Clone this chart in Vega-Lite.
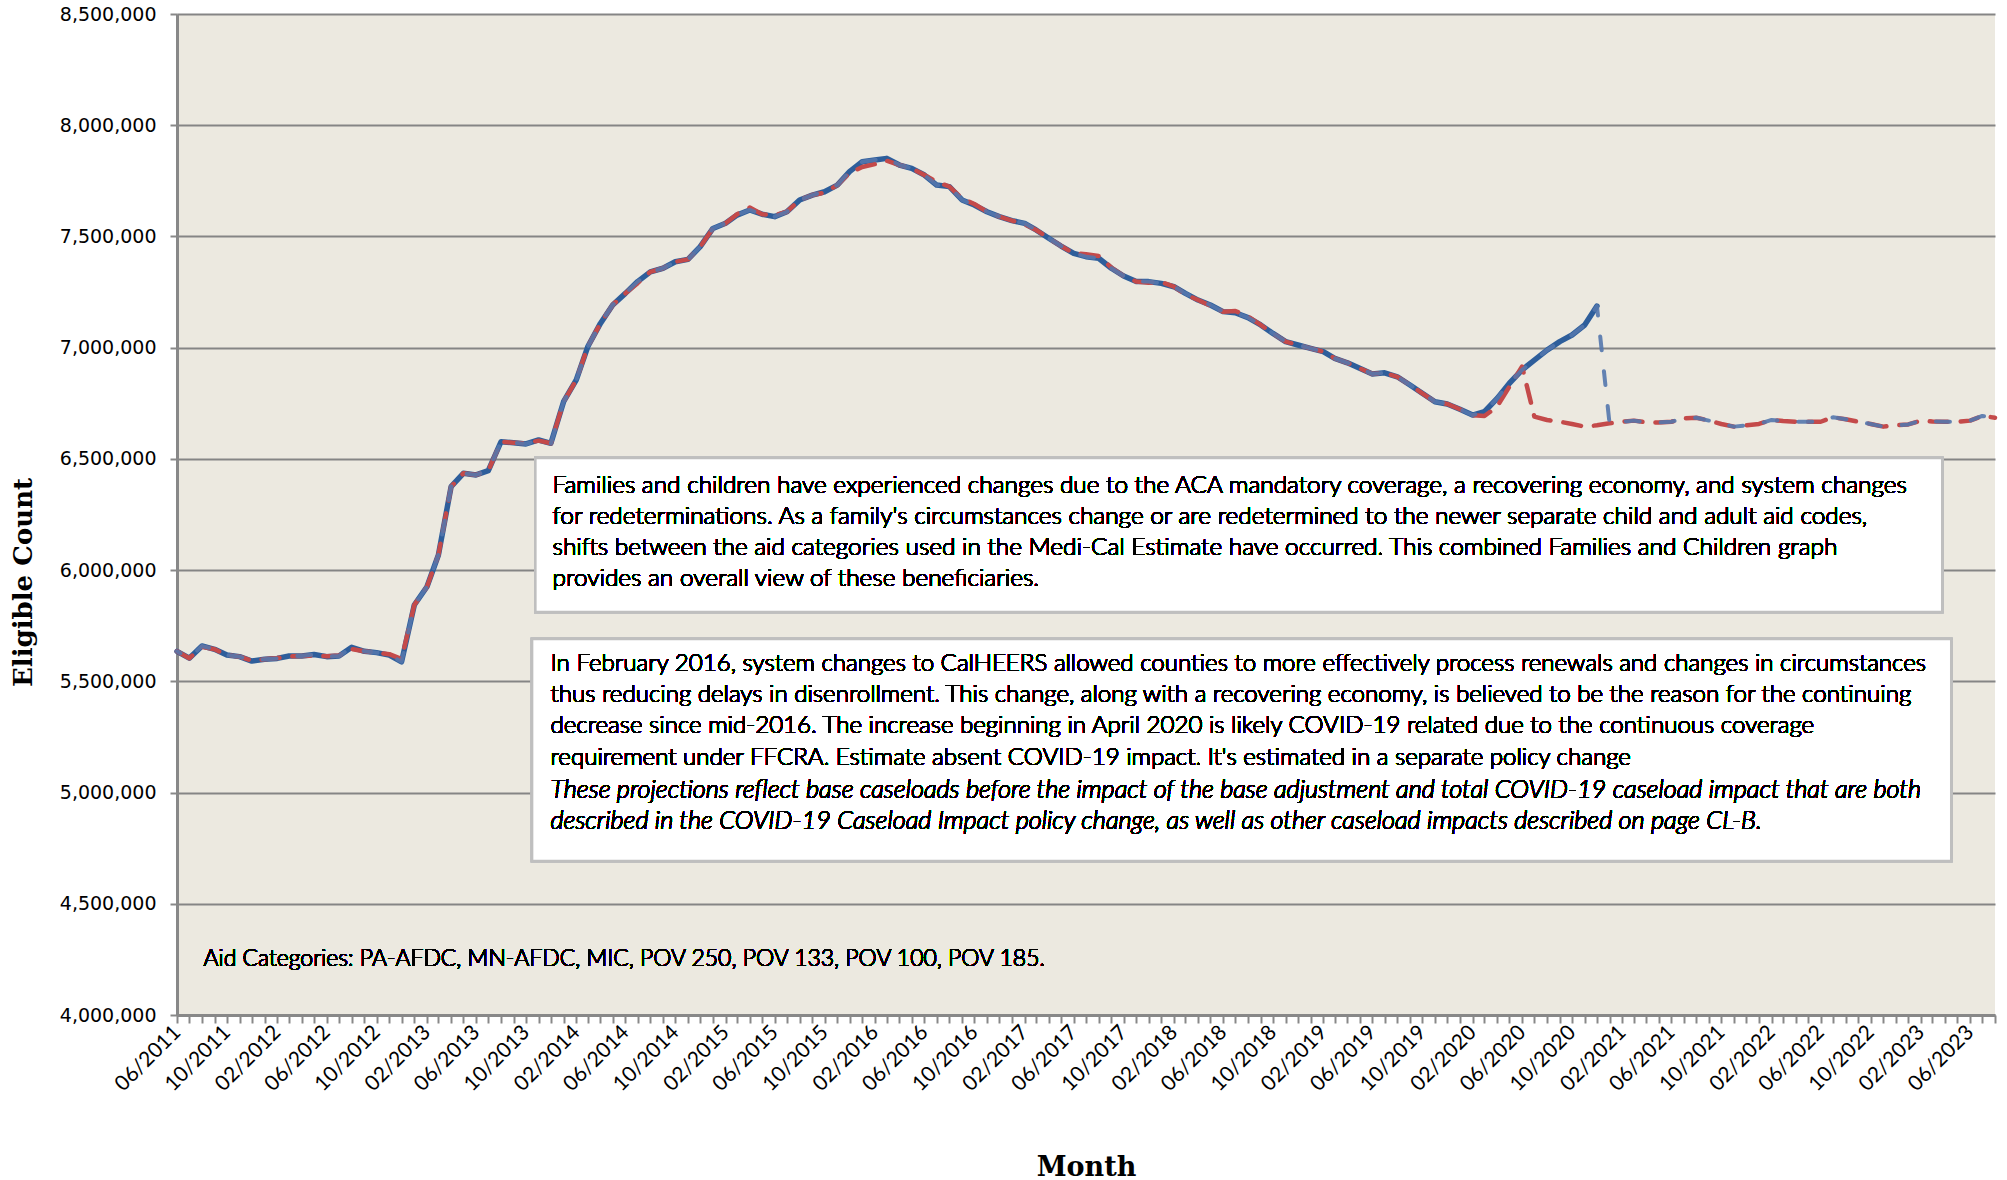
{
 "$schema": "https://vega.github.io/schema/vega-lite/v6.json",
 "width": 1818,
 "height": 1001,
 "autosize": {"type": "none"},
 "padding": {"left": 177, "top": 14, "right": 12, "bottom": 165},
 "background": "white",
 "config": {"view": {"fill": "#ECE9E0", "stroke": null}, "font": "Lato"},
 "title": {"text": "Actuals", "anchor": "end", "frame": "group", "orient": "top", "baseline": "alphabetic", "offset": 0, "fontSize": 18, "font": "Lato", "fontWeight": "normal", "color": "#000000", "dx": -20},
 "data": {
  "format": {"parse": {"month": "date:'%Y-%m'"}},
  "values": [
   {"month": "2011-06", "actual": 5635000, "prior": 5635000, "current": 5635000},
   {"month": "2011-07", "actual": 5604000, "prior": 5604000, "current": 5604000},
   {"month": "2011-08", "actual": 5659000, "prior": 5655000, "current": 5659000},
   {"month": "2011-09", "actual": 5644000, "prior": 5644000, "current": 5644000},
   {"month": "2011-10", "actual": 5618000, "prior": 5618000, "current": 5618000},
   {"month": "2011-11", "actual": 5611000, "prior": 5611000, "current": 5611000},
   {"month": "2011-12", "actual": 5591000, "prior": 5593000, "current": 5591000},
   {"month": "2012-01", "actual": 5599000, "prior": 5599000, "current": 5599000},
   {"month": "2012-02", "actual": 5603000, "prior": 5605000, "current": 5603000},
   {"month": "2012-03", "actual": 5614000, "prior": 5612000, "current": 5614000},
   {"month": "2012-04", "actual": 5614000, "prior": 5614000, "current": 5614000},
   {"month": "2012-05", "actual": 5621000, "prior": 5615000, "current": 5621000},
   {"month": "2012-06", "actual": 5611000, "prior": 5613000, "current": 5611000},
   {"month": "2012-07", "actual": 5614000, "prior": 5616000, "current": 5614000},
   {"month": "2012-08", "actual": 5653000, "prior": 5645000, "current": 5653000},
   {"month": "2012-09", "actual": 5635000, "prior": 5635000, "current": 5635000},
   {"month": "2012-10", "actual": 5629000, "prior": 5629000, "current": 5629000},
   {"month": "2012-11", "actual": 5618000, "prior": 5622000, "current": 5618000},
   {"month": "2012-12", "actual": 5588000, "prior": 5600000, "current": 5588000},
   {"month": "2013-01", "actual": 5843000, "prior": 5843000, "current": 5843000},
   {"month": "2013-02", "actual": 5925000, "prior": 5925000, "current": 5925000},
   {"month": "2013-03", "actual": 6068000, "prior": 6068000, "current": 6068000},
   {"month": "2013-04", "actual": 6375000, "prior": 6375000, "current": 6375000},
   {"month": "2013-05", "actual": 6435000, "prior": 6435000, "current": 6435000},
   {"month": "2013-06", "actual": 6428000, "prior": 6428000, "current": 6428000},
   {"month": "2013-07", "actual": 6447000, "prior": 6447000, "current": 6447000},
   {"month": "2013-08", "actual": 6577000, "prior": 6577000, "current": 6577000},
   {"month": "2013-09", "actual": 6573000, "prior": 6573000, "current": 6573000},
   {"month": "2013-10", "actual": 6567000, "prior": 6570000, "current": 6567000},
   {"month": "2013-11", "actual": 6585000, "prior": 6582000, "current": 6585000},
   {"month": "2013-12", "actual": 6570000, "prior": 6570000, "current": 6570000},
   {"month": "2014-01", "actual": 6757000, "prior": 6757000, "current": 6757000},
   {"month": "2014-02", "actual": 6855000, "prior": 6855000, "current": 6855000},
   {"month": "2014-03", "actual": 7004000, "prior": 7004000, "current": 7004000},
   {"month": "2014-04", "actual": 7109000, "prior": 7109000, "current": 7109000},
   {"month": "2014-05", "actual": 7192000, "prior": 7192000, "current": 7192000},
   {"month": "2014-06", "actual": 7244000, "prior": 7244000, "current": 7244000},
   {"month": "2014-07", "actual": 7297000, "prior": 7290000, "current": 7297000},
   {"month": "2014-08", "actual": 7341000, "prior": 7341000, "current": 7341000},
   {"month": "2014-09", "actual": 7357000, "prior": 7357000, "current": 7357000},
   {"month": "2014-10", "actual": 7386000, "prior": 7386000, "current": 7386000},
   {"month": "2014-11", "actual": 7397000, "prior": 7397000, "current": 7397000},
   {"month": "2014-12", "actual": 7454000, "prior": 7454000, "current": 7454000},
   {"month": "2015-01", "actual": 7536000, "prior": 7536000, "current": 7536000},
   {"month": "2015-02", "actual": 7559000, "prior": 7559000, "current": 7559000},
   {"month": "2015-03", "actual": 7596000, "prior": 7600000, "current": 7596000},
   {"month": "2015-04", "actual": 7619000, "prior": 7630000, "current": 7619000},
   {"month": "2015-05", "actual": 7600000, "prior": 7600000, "current": 7600000},
   {"month": "2015-06", "actual": 7589000, "prior": 7595000, "current": 7589000},
   {"month": "2015-07", "actual": 7611000, "prior": 7611000, "current": 7611000},
   {"month": "2015-08", "actual": 7664000, "prior": 7664000, "current": 7664000},
   {"month": "2015-09", "actual": 7686000, "prior": 7686000, "current": 7686000},
   {"month": "2015-10", "actual": 7701000, "prior": 7697000, "current": 7701000},
   {"month": "2015-11", "actual": 7731000, "prior": 7731000, "current": 7731000},
   {"month": "2015-12", "actual": 7791000, "prior": 7785000, "current": 7791000},
   {"month": "2016-01", "actual": 7836000, "prior": 7812000, "current": 7836000},
   {"month": "2016-02", "actual": 7844000, "prior": 7825000, "current": 7844000},
   {"month": "2016-03", "actual": 7851000, "prior": 7840000, "current": 7851000},
   {"month": "2016-04", "actual": 7821000, "prior": 7821000, "current": 7821000},
   {"month": "2016-05", "actual": 7806000, "prior": 7806000, "current": 7806000},
   {"month": "2016-06", "actual": 7776000, "prior": 7776000, "current": 7776000},
   {"month": "2016-07", "actual": 7731000, "prior": 7745000, "current": 7731000},
   {"month": "2016-08", "actual": 7724000, "prior": 7724000, "current": 7724000},
   {"month": "2016-09", "actual": 7664000, "prior": 7670000, "current": 7664000},
   {"month": "2016-10", "actual": 7641000, "prior": 7646000, "current": 7641000},
   {"month": "2016-11", "actual": 7611000, "prior": 7611000, "current": 7611000},
   {"month": "2016-12", "actual": 7589000, "prior": 7589000, "current": 7589000},
   {"month": "2017-01", "actual": 7571000, "prior": 7571000, "current": 7571000},
   {"month": "2017-02", "actual": 7559000, "prior": 7555000, "current": 7559000},
   {"month": "2017-03", "actual": 7529000, "prior": 7529000, "current": 7529000},
   {"month": "2017-04", "actual": 7492000, "prior": 7492000, "current": 7492000},
   {"month": "2017-05", "actual": 7457000, "prior": 7457000, "current": 7457000},
   {"month": "2017-06", "actual": 7424000, "prior": 7424000, "current": 7424000},
   {"month": "2017-07", "actual": 7409000, "prior": 7420000, "current": 7409000},
   {"month": "2017-08", "actual": 7402000, "prior": 7412000, "current": 7402000},
   {"month": "2017-09", "actual": 7357000, "prior": 7360000, "current": 7357000},
   {"month": "2017-10", "actual": 7322000, "prior": 7322000, "current": 7322000},
   {"month": "2017-11", "actual": 7297000, "prior": 7297000, "current": 7297000},
   {"month": "2017-12", "actual": 7297000, "prior": 7292000, "current": 7297000},
   {"month": "2018-01", "actual": 7289000, "prior": 7295000, "current": 7289000},
   {"month": "2018-02", "actual": 7274000, "prior": 7274000, "current": 7274000},
   {"month": "2018-03", "actual": 7244000, "prior": 7240000, "current": 7244000},
   {"month": "2018-04", "actual": 7214000, "prior": 7214000, "current": 7214000},
   {"month": "2018-05", "actual": 7192000, "prior": 7188000, "current": 7192000},
   {"month": "2018-06", "actual": 7162000, "prior": 7162000, "current": 7162000},
   {"month": "2018-07", "actual": 7157000, "prior": 7165000, "current": 7157000},
   {"month": "2018-08", "actual": 7135000, "prior": 7140000, "current": 7135000},
   {"month": "2018-09", "actual": 7102000, "prior": 7102000, "current": 7102000},
   {"month": "2018-10", "actual": 7064000, "prior": 7064000, "current": 7064000},
   {"month": "2018-11", "actual": 7027000, "prior": 7027000, "current": 7027000},
   {"month": "2018-12", "actual": 7012000, "prior": 7012000, "current": 7012000},
   {"month": "2019-01", "actual": 6997000, "prior": 6997000, "current": 6997000},
   {"month": "2019-02", "actual": 6982000, "prior": 6982000, "current": 6982000},
   {"month": "2019-03", "actual": 6952000, "prior": 6952000, "current": 6952000},
   {"month": "2019-04", "actual": 6932000, "prior": 6932000, "current": 6932000},
   {"month": "2019-05", "actual": 6907000, "prior": 6907000, "current": 6907000},
   {"month": "2019-06", "actual": 6882000, "prior": 6882000, "current": 6882000},
   {"month": "2019-07", "actual": 6887000, "prior": 6887000, "current": 6887000},
   {"month": "2019-08", "actual": 6869000, "prior": 6869000, "current": 6869000},
   {"month": "2019-09", "actual": 6832000, "prior": 6832000, "current": 6832000},
   {"month": "2019-10", "actual": 6795000, "prior": 6795000, "current": 6795000},
   {"month": "2019-11", "actual": 6757000, "prior": 6757000, "current": 6757000},
   {"month": "2019-12", "actual": 6747000, "prior": 6747000, "current": 6747000},
   {"month": "2020-01", "actual": 6723000, "prior": 6723000, "current": 6723000},
   {"month": "2020-02", "actual": 6697000, "prior": 6697000, "current": 6697000},
   {"month": "2020-03", "actual": 6712000, "prior": 6693000, "current": 6712000},
   {"month": "2020-04", "actual": 6772000, "prior": 6735000, "current": 6772000},
   {"month": "2020-05", "actual": 6840000, "prior": 6825000, "current": 6840000},
   {"month": "2020-06", "actual": 6900000, "prior": 6915000, "current": 6900000},
   {"month": "2020-07", "actual": 6944000, "prior": 6690000, "current": 6944000},
   {"month": "2020-08", "actual": 6989000, "prior": 6675000, "current": 6989000},
   {"month": "2020-09", "actual": 7027000, "prior": 6667000, "current": 7027000},
   {"month": "2020-10", "actual": 7057000, "prior": 6657000, "current": 7057000},
   {"month": "2020-11", "actual": 7102000, "prior": 6645000, "current": 7102000},
   {"month": "2020-12", "actual": 7187000, "prior": 6651000, "current": 7187000},
   {"month": "2021-01", "actual": null, "prior": 6660000, "current": 6655000},
   {"month": "2021-02", "actual": null, "prior": 6667000, "current": 6667000},
   {"month": "2021-03", "actual": null, "prior": 6672000, "current": 6672000},
   {"month": "2021-04", "actual": null, "prior": 6664000, "current": 6664000},
   {"month": "2021-05", "actual": null, "prior": 6664000, "current": 6664000},
   {"month": "2021-06", "actual": null, "prior": 6667000, "current": 6667000},
   {"month": "2021-07", "actual": null, "prior": 6682000, "current": 6682000},
   {"month": "2021-08", "actual": null, "prior": 6685000, "current": 6685000},
   {"month": "2021-09", "actual": null, "prior": 6672000, "current": 6672000},
   {"month": "2021-10", "actual": null, "prior": 6657000, "current": 6657000},
   {"month": "2021-11", "actual": null, "prior": 6645000, "current": 6645000},
   {"month": "2021-12", "actual": null, "prior": 6651000, "current": 6651000},
   {"month": "2022-01", "actual": null, "prior": 6657000, "current": 6657000},
   {"month": "2022-02", "actual": null, "prior": 6675000, "current": 6675000},
   {"month": "2022-03", "actual": null, "prior": 6670000, "current": 6670000},
   {"month": "2022-04", "actual": null, "prior": 6667000, "current": 6667000},
   {"month": "2022-05", "actual": null, "prior": 6667000, "current": 6667000},
   {"month": "2022-06", "actual": null, "prior": 6667000, "current": 6667000},
   {"month": "2022-07", "actual": null, "prior": 6687000, "current": 6687000},
   {"month": "2022-08", "actual": null, "prior": 6678000, "current": 6678000},
   {"month": "2022-09", "actual": null, "prior": 6667000, "current": 6667000},
   {"month": "2022-10", "actual": null, "prior": 6657000, "current": 6657000},
   {"month": "2022-11", "actual": null, "prior": 6645000, "current": 6645000},
   {"month": "2022-12", "actual": null, "prior": 6651000, "current": 6651000},
   {"month": "2023-01", "actual": null, "prior": 6655000, "current": 6655000},
   {"month": "2023-02", "actual": null, "prior": 6672000, "current": 6672000},
   {"month": "2023-03", "actual": null, "prior": 6668000, "current": 6668000},
   {"month": "2023-04", "actual": null, "prior": 6667000, "current": 6667000},
   {"month": "2023-05", "actual": null, "prior": 6667000, "current": 6667000},
   {"month": "2023-06", "actual": null, "prior": 6672000, "current": 6672000},
   {"month": "2023-07", "actual": null, "prior": 6693000, "current": 6693000},
   {"month": "2023-08", "actual": null, "prior": 6685000, "current": 6685000}
  ]
 },
 "layer": [
  {
   "mark": {"type": "line", "color": "#2E5E9B", "strokeWidth": 5.5, "strokeJoin": "round", "strokeCap": "round"},
   "encoding": {
    "x": {
     "field": "month", "type": "temporal",
     "scale": {"domain": [{"year": 2011, "month": 6, "date": 1}, {"year": 2023, "month": 8, "date": 1}], "nice": false, "padding": 0},
     "axis": {
      "title": "Month", "titleFont": "DejaVu Serif", "titleFontWeight": "bold", "titleFontSize": 27, "titleColor": "#000000",
      "titleY": 160, "titleBaseline": "alphabetic",
      "tickCount": {"interval": "month", "step": 1},
      "labelExpr": "month(datum.value) % 4 == 1 ? timeFormat(datum.value, '%m/%Y') : ''",
      "labelAngle": -45, "labelAlign": "right", "labelBaseline": "middle",
      "labelFont": "Lato", "labelFontSize": 21, "labelFontWeight": 400, "labelColor": "#000000", "labelPadding": 6,
      "labelOverlap": false, "labelBound": false, "labelFlush": false,
      "tickSize": 8, "tickColor": "#888888", "tickWidth": 2,
      "domainColor": "#888888", "domainWidth": 3, "grid": false
     }
    },
    "y": {
     "field": "actual", "type": "quantitative",
     "scale": {"domain": [4000000, 8500000], "nice": false, "zero": false},
     "axis": {
      "title": "Eligible Count", "titleFont": "DejaVu Serif", "titleFontWeight": "bold", "titleFontSize": 26, "titleColor": "#000000",
      "titleX": -154, "titleY": 568, "titleBaseline": "middle", "titleAngle": -90,
      "values": [4000000, 4500000, 5000000, 5500000, 6000000, 6500000, 7000000, 7500000, 8000000, 8500000],
      "format": ",d", "labelFont": "DejaVu Sans", "labelFontSize": 19, "labelColor": "#000000", "labelPadding": 14,
      "tickSize": 7, "tickColor": "#888888", "tickWidth": 2,
      "domainColor": "#888888", "domainWidth": 3,
      "grid": true, "gridColor": "#858585", "gridWidth": 2
     }
    }
   }
  },
  {
   "mark": {"type": "line", "color": "#C44A4A", "strokeWidth": 4.5, "strokeDash": [18, 13], "strokeCap": "round", "strokeJoin": "round"},
   "encoding": {
    "x": {"field": "month", "type": "temporal"},
    "y": {"field": "prior", "type": "quantitative"}
   }
  },
  {
   "mark": {"type": "line", "color": "#5477AD", "strokeWidth": 4, "strokeDash": [14, 21], "strokeDashOffset": 10, "strokeCap": "round", "strokeJoin": "round", "opacity": 0.9},
   "encoding": {
    "x": {"field": "month", "type": "temporal"},
    "y": {"field": "current", "type": "quantitative"}
   }
  },
  {
   "mark": {"type": "rect", "fill": "#FFFFFF", "stroke": "#BFBFBF", "strokeWidth": 2.5},
   "encoding": {
    "x": {"datum": {"year": 2013, "month": 10, "date": 24}, "type": "temporal"},
    "x2": {"datum": {"year": 2023, "month": 3, "date": 25}},
    "y": {"datum": 6504000, "type": "quantitative"},
    "y2": {"datum": 5812000}
   }
  },
  {
   "mark": {"type": "rect", "fill": "#FFFFFF", "stroke": "#BFBFBF", "strokeWidth": 2.5},
   "encoding": {
    "x": {"datum": {"year": 2013, "month": 10, "date": 16}, "type": "temporal"},
    "x2": {"datum": {"year": 2023, "month": 4, "date": 16}},
    "y": {"datum": 5690000, "type": "quantitative"},
    "y2": {"datum": 4692000}
   }
  },
  {
   "mark": {"type": "text", "align": "left", "baseline": "middle", "font": "Lato", "fontSize": 24.4, "fontWeight": 300, "lineHeight": 31, "color": "#000000",
    "text": [
     "Families and children have experienced changes due to the ACA mandatory coverage, a recovering economy, and system changes",
     "for redeterminations.  As a family's circumstances change or are redetermined to the newer separate child and adult aid codes,",
     "shifts between the aid categories used in the Medi-Cal Estimate have occurred.  This combined Families and Children graph",
     "provides an overall view of these beneficiaries."
    ]},
   "encoding": {
    "x": {"datum": {"year": 2013, "month": 12, "date": 5}, "type": "temporal"},
    "y": {"datum": 6378000, "type": "quantitative"}
   }
  },
  {
   "mark": {"type": "text", "align": "left", "baseline": "middle", "font": "Lato", "fontSize": 24.1, "fontWeight": 300, "lineHeight": 31.2, "color": "#000000",
    "text": [
     "In February 2016, system changes to CalHEERS allowed counties to more effectively process renewals and changes in circumstances",
     "thus reducing delays in disenrollment. This change, along with a recovering economy, is believed to be the reason for the continuing",
     "decrease since mid-2016. The increase beginning in April 2020 is likely COVID-19 related due to the continuous coverage",
     "requirement under FFCRA. Estimate absent COVID-19 impact. It's estimated in a separate policy change"
    ]},
   "encoding": {
    "x": {"datum": {"year": 2013, "month": 11, "date": 30}, "type": "temporal"},
    "y": {"datum": 5578000, "type": "quantitative"}
   }
  },
  {
   "mark": {"type": "text", "align": "left", "baseline": "middle", "font": "Lato", "fontSize": 25.3, "fontStyle": "italic", "fontWeight": 300, "lineHeight": 31.2, "color": "#000000",
    "text": [
     "These projections reflect base caseloads before the impact of the base adjustment and total COVID-19 caseload impact that are both",
     "described in the COVID-19 Caseload Impact policy change, as well as other caseload impacts described on page CL-B."
    ]},
   "encoding": {
    "x": {"datum": {"year": 2013, "month": 11, "date": 30}, "type": "temporal"},
    "y": {"datum": 5011500, "type": "quantitative"}
   }
  },
  {
   "mark": {"type": "text", "align": "left", "baseline": "middle", "font": "Lato", "fontSize": 22.95, "fontWeight": 300, "color": "#000000",
    "text": "Aid Categories: PA-AFDC, MN-AFDC, MIC, POV 250, POV 133, POV 100, POV 185."},
   "encoding": {
    "x": {"datum": {"year": 2011, "month": 8, "date": 5}, "type": "temporal"},
    "y": {"datum": 4252000, "type": "quantitative"}
   }
  }
 ]
}
